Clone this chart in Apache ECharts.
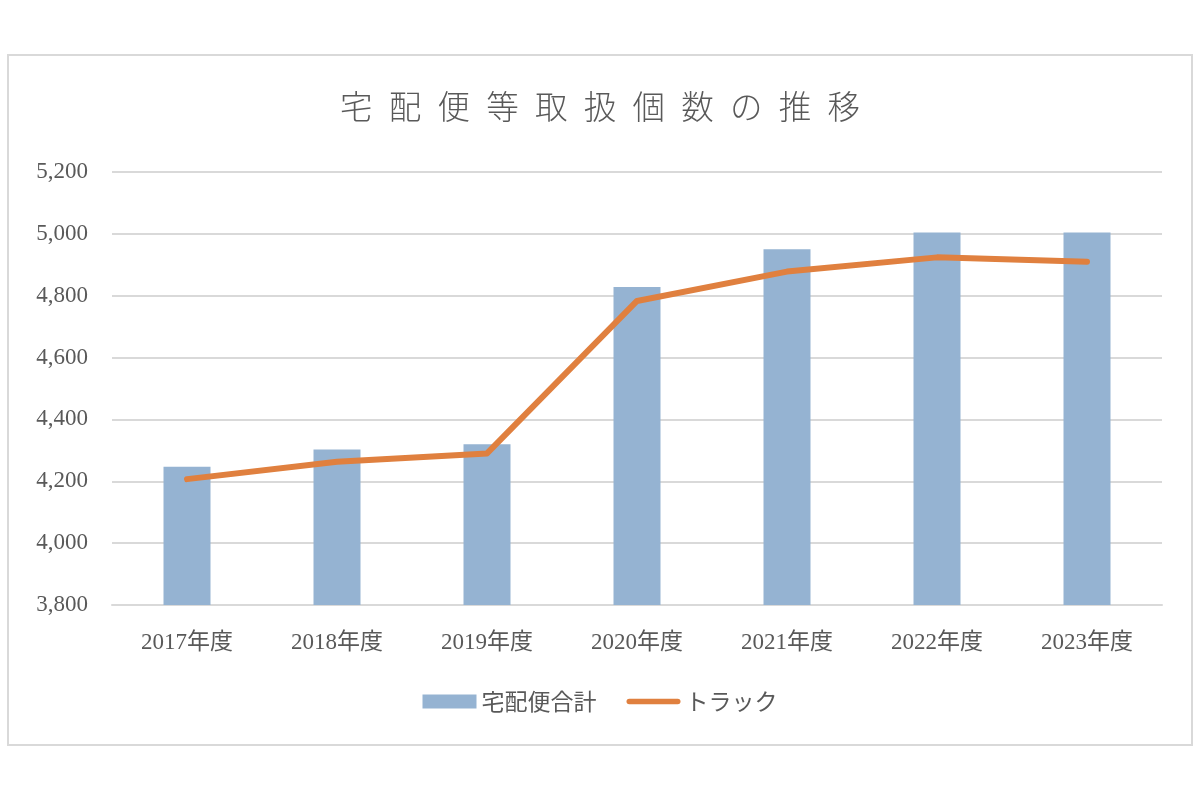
<!DOCTYPE html>
<html>
<head>
<meta charset="utf-8">
<script src="https://cdn.jsdelivr.net/npm/echarts@6/dist/echarts.min.js"></script>
<style>
html, body { margin: 0; padding: 0; background: #fff; }
#main { width: 1200px; height: 800px; }
</style>
</head>
<body>
<div id="main"></div>
<script>
// data
const years = ['2017年度', '2018年度', '2019年度', '2020年度', '2021年度', '2022年度', '2023年度'];
const takuhaiTotal = [4247, 4303, 4320, 4828, 4950, 5004, 5004];
const truck = [4207, 4263, 4290, 4783, 4878, 4924, 4910];
const titleText = '宅配便等取扱個数の推移';

const serif = '"Liberation Serif", "Noto Sans CJK JP", serif';
const gray = '#595959';

let myChart = echarts.init(document.getElementById('main'));

let option = {
    backgroundColor: '#fff',
    title: {
        text: titleText.split('').join('\u2002'),
        left: 'center',
        top: 85,
        textStyle: {
            fontFamily: '"Noto Sans CJK JP", sans-serif',
            fontWeight: 300,
            fontSize: 32.5,
            color: gray
        }
    },
    legend: {
        bottom: 82,
        left: 'center',
        itemGap: 30,
        itemWidth: 54,
        itemHeight: 14,
        textStyle: { fontFamily: '"Noto Sans CJK JP", sans-serif', fontSize: 23, color: gray },
        data: [
            { name: '宅配便合計', icon: 'rect' },
            { name: 'トラック', icon: 'path://M3,0 L55,0 A3,3 0 0 1 55,6 L3,6 A3,3 0 0 1 3,0 Z' }
        ]
    },
    graphic: [{
        type: 'rect',
        shape: { x: 8, y: 55, width: 1184, height: 690 },
        style: { fill: 'none', stroke: '#d9d9d9', lineWidth: 2 },
        silent: true
    }],
    grid: { left: 112, right: 38, top: 172, bottom: 195 },
    xAxis: {
        type: 'category',
        data: years,
        axisTick: { show: false },
        axisLine: { lineStyle: { color: '#d9d9d9', width: 2 } },
        axisLabel: { fontFamily: serif, fontSize: 23, color: gray, margin: 26 }
    },
    yAxis: {
        type: 'value',
        min: 3800,
        max: 5200,
        interval: 200,
        axisLine: { show: false },
        axisTick: { show: false },
        splitLine: { lineStyle: { color: '#d9d9d9', width: 2 } },
        axisLabel: {
            fontFamily: serif, fontSize: 23, color: gray, margin: 24,
            formatter: function (v) { return v.toLocaleString('en-US'); }
        }
    },
    series: [
        {
            name: '宅配便合計',
            type: 'bar',
            data: takuhaiTotal,
            barWidth: 47,
            itemStyle: { color: '#95b3d2' }
        },
        {
            name: 'トラック',
            type: 'line',
            data: truck,
            symbol: 'none',
            lineStyle: { color: '#e0803f', width: 6, cap: 'round', join: 'round' },
            itemStyle: { color: '#e0803f' }
        }
    ]
};

myChart.setOption(option);
</script>
</body>
</html>
